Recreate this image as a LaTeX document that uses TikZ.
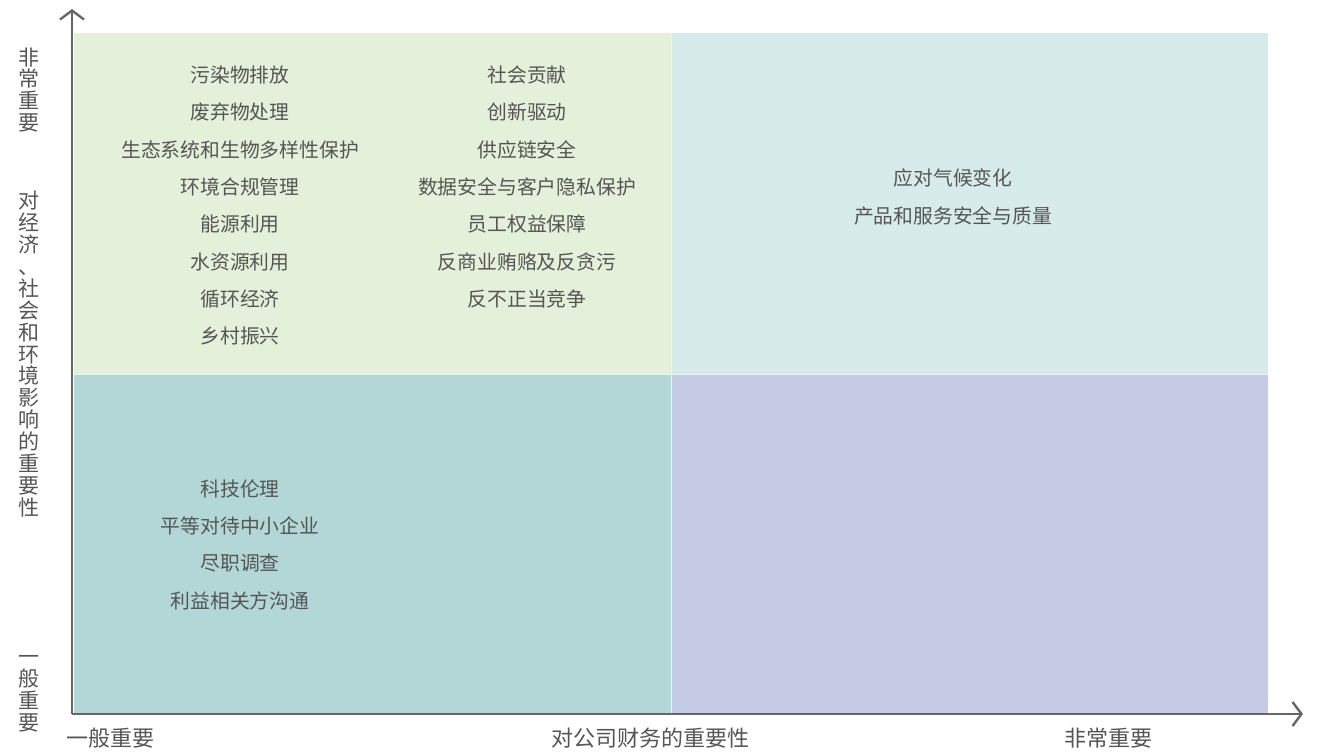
\documentclass[tikz,border=0pt]{standalone}
\usepackage{fontspec}
\setmainfont{Noto Sans CJK SC}
\usetikzlibrary{arrows.meta}
\definecolor{tl}{HTML}{E5F0DA}
\definecolor{tr}{HTML}{D7ECEA}
\definecolor{bl}{HTML}{B3D7D7}
\definecolor{br}{HTML}{C5CBE5}
\definecolor{txt}{HTML}{555555}
\definecolor{axis}{HTML}{666666}
\tikzset{
  item/.style={text=txt, font=\fontsize{19.8}{21}\selectfont, inner sep=0pt, anchor=center},
  vlab/.style={text=txt, font=\fontsize{21}{21.9}\selectfont, inner sep=0pt, align=center},
  hlab/.style={text=txt, font=\fontsize{22}{24}\selectfont, inner sep=0pt},
  ax/.style={draw=axis, line width=2.6pt, -{Straight Barb[length=9pt, width=24pt, line width=2.4pt]}}
}
\begin{document}
\begin{tikzpicture}[x=1pt, y=-1pt]
\useasboundingbox (0,0) rectangle (1329,753);
% quadrants
\fill[tl] (74,33) rectangle (671,374);
\fill[tr] (671,33) rectangle (1268,374);
\fill[bl] (74,374) rectangle (671,713);
\fill[br] (671,374) rectangle (1268,713);
\draw[draw=black!6, line width=0.8pt] (671,33) -- (671,713) (74,374) -- (1268,374);
% axes
\coordinate (o) at (72,714);
\coordinate (ytip) at (72,9);
\coordinate (xtip) at (1303,714);
\draw[ax] (o) -- (ytip);
\draw[ax] (o) -- (xtip);
% axis labels
\node[vlab] (yhi) at (29,90) {非\\常\\重\\要};
\node[vlab] (ymid) at (29,354) {对\\经\\济\\、\\社\\会\\和\\环\\境\\影\\响\\的\\重\\要\\性};
\node[vlab] (ylo) at (29,694) {一\\般\\重\\要};
\node[hlab] (xlo) at (110,738) {一般重要};
\node[hlab] (xmid) at (650,738) {对公司财务的重要性};
\node[hlab] (xhi) at (1108,738) {非常重要};
% column 1
\node[item] (a1) at (240,75) {污染物排放};
\node[item] (a2) at (240,112) {废弃物处理};
\node[item] (a3) at (240,150) {生态系统和生物多样性保护};
\node[item] (a4) at (240,187) {环境合规管理};
\node[item] (a5) at (240,224) {能源利用};
\node[item] (a6) at (240,262) {水资源利用};
\node[item] (a7) at (240,299) {循环经济};
\node[item] (a8) at (240,336) {乡村振兴};
% column 2
\node[item] (b1) at (527,75) {社会贡献};
\node[item] (b2) at (527,112) {创新驱动};
\node[item] (b3) at (527,150) {供应链安全};
\node[item] (b4) at (527,187) {数据安全与客户隐私保护};
\node[item] (b5) at (527,224) {员工权益保障};
\node[item] (b6) at (527,262) {反商业贿赂及反贪污};
\node[item] (b7) at (527,299) {反不正当竞争};
% top right
\node[item] (c1) at (953,178) {应对气候变化};
\node[item] (c2) at (953,216) {产品和服务安全与质量};
% bottom left
\node[item] (d1) at (240,489) {科技伦理};
\node[item] (d2) at (240,526) {平等对待中小企业};
\node[item] (d3) at (240,563) {尽职调查};
\node[item] (d4) at (240,601) {利益相关方沟通};
\end{tikzpicture}
\end{document}
